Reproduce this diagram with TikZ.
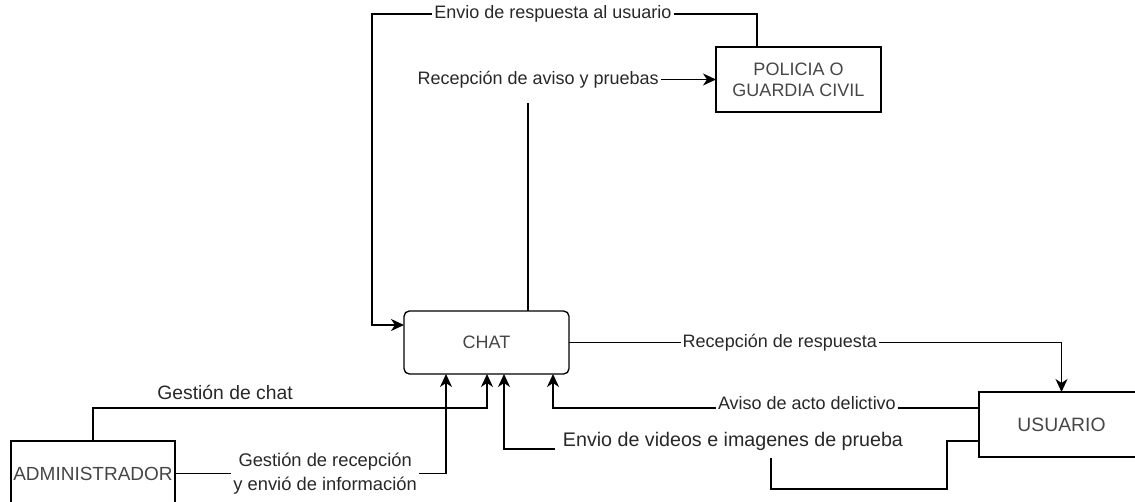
\documentclass[tikz,border=0pt]{standalone}
\usepackage{fontspec}
\setmainfont{Liberation Sans}
\usetikzlibrary{positioning}
\usetikzlibrary{calc}
\usetikzlibrary{arrows.meta}
\definecolor{boxtext}{RGB}{70,70,70}
\definecolor{lbltext}{RGB}{40,40,40}

\tikzset{
  box/.style={draw, rectangle, line width=1pt, outer sep=0pt, minimum width=123.75pt, minimum height=48.75pt, text=boxtext, font=\fontsize{13.5}{15.75}\selectfont},
  flow/.style={-{Stealth[length=9.75pt,width=9pt,inset=3pt]}, line width=1.05pt},
  lbl/.style={fill=white, text=lbltext, inner xsep=1.5pt, inner ysep=1pt, font=\fontsize{13.5}{18}\selectfont},
}

\begin{document}
\begin{tikzpicture}[x=0.75pt, y=-0.75pt]
			\useasboundingbox (0,0) rectangle (1135,502);
			\clip (0,0) rectangle (1135,502);

			\node[box, align=center] (policia) at (798.5,79.5) {POLICIA O\\GUARDIA CIVIL};
			\node[box, rounded corners=4pt, minimum height=47.25pt] (chat) at (486.5,342.5) {CHAT};
			\node[box, font=\fontsize{14.5}{17}\selectfont] (usuario) at (1061.5,424.5) {USUARIO};
			\node[box, inner xsep=0pt, minimum width=123pt, font=\fontsize{14.25}{17}\selectfont] (admin) at (93,473.5) {ADMINISTRADOR};

			\draw[flow] ($(policia.north west)+(41,0)$) -- ++(0,-33) -- node[lbl, pos=0.53] {Envio de respuesta al usuario} (372,14) -- (372,325) -- ($(chat.north west)+(0,14)$);
			\draw[flow] ($(chat.north west)+(124,0)$) |- node[lbl, pos=0.527, inner ysep=11pt] {Recepción de aviso y pruebas} (policia.west);

			\draw[flow] (chat.east) -| node[lbl, pos=0.214] {Recepción de respuesta} (usuario.north);
			\draw[flow] ($(usuario.north west)+(0,16)$) -| node[lbl, pos=0.202, yshift=3.5pt] {Aviso de acto delictivo} ($(chat.south west)+(149,0)$);
			\draw[flow] ($(usuario.north west)+(0,49)$) -- ++(-32,0) -- ++(0,48) -- (771,489) -- (771,449) -| ($(chat.south west)+(100,0)$);
			\node[lbl, font=\fontsize{14.75}{18}\selectfont, inner xsep=6pt, inner ysep=6pt] (videos) at (733,441) {Envio de videos e imagenes de prueba};

			\draw[flow] (admin.north) -- (93,408) -| ($(chat.south west)+(83,0)$);
			\node[text=lbltext, font=\fontsize{14.5}{17}\selectfont] (gestchat) at (225,392) {Gestión de chat};
			\draw[flow] (admin.east) -| node[lbl, pos=0.277, align=center, font=\fontsize{13.75}{18}\selectfont] {Gestión de recepción\\y envió de información} ($(chat.south west)+(42,0)$);
		\end{tikzpicture}
\end{document}
